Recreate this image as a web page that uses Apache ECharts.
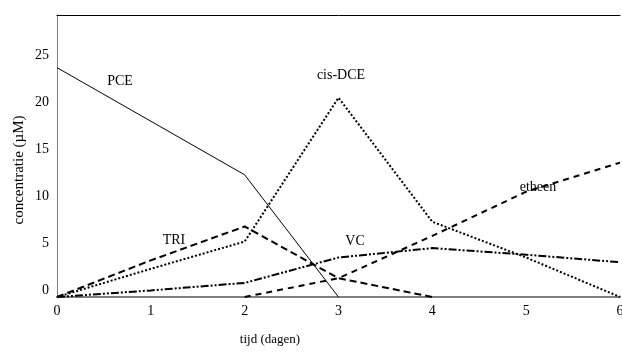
<!DOCTYPE html>
<html>
<head>
<meta charset="utf-8">
<script src="https://cdn.jsdelivr.net/npm/echarts@6/dist/echarts.min.js"></script>
<style>html,body{margin:0;padding:0;background:#fff;}#c{width:622px;height:352px;}</style>
</head>
<body>
<div id="c"></div>
<script>
// Data (days, concentration µM)
var days = [0, 1, 2, 3, 4, 5, 6];
var pceDays = [0, 2, 3];
var pce = [24.4, 13.0, 0];
var tri = [0, 3.9, 7.5, 2.0, 0];
var cisDce = [0, 3.0, 5.9, 21.2, 8.0, 4.2, 0];
var vc = [0, 0.7, 1.5, 4.2, 5.2, 4.5, 3.7];
var etheenDays = [2, 3, 4, 5, 6];
var etheen = [0, 2.0, 6.5, 11.2, 14.3];
var yTicks = [0, 5, 10, 15, 20, 25];
var xTicks = [0, 1, 2, 3, 4, 5, 6];

function pairs(xs, ys) { return ys.map(function (v, i) { return [xs[i], v]; }); }

var serif = 'Liberation Serif';
var chart = echarts.init(document.getElementById('c'));
chart.setOption({
  animation: false,
  grid: { left: 57, right: 2, top: 15, bottom: 55, containLabel: false, outerBoundsMode: 'none' },
  xAxis: [{
    type: 'value', min: 0, max: 6, interval: 1,
    axisLine: { lineStyle: { color: '#808080', width: 2 } },
    axisTick: { show: false },
    splitLine: { show: false },
    axisLabel: { color: '#000', fontFamily: serif, fontSize: 14, margin: 7,
      customValues: xTicks }
  }, {
    type: 'value', min: 0, max: 6, position: 'top',
    axisLine: { show: true, onZero: false, lineStyle: { color: '#000', width: 1 } },
    axisTick: { show: false }, axisLabel: { show: false }, splitLine: { show: false }
  }],
  yAxis: {
    type: 'value', min: 0, max: 30, interval: 5,
    axisLine: { show: true, lineStyle: { color: '#808080', width: 1 } },
    axisTick: { show: false },
    splitLine: { show: false },
    axisLabel: { color: '#000', fontFamily: serif, fontSize: 14, margin: 8,
      verticalAlign: 'bottom', lineHeight: 14, customValues: yTicks }
  },
  graphic: [
    { type: 'text', x: 270, y: 340, style: { text: 'tijd (dagen)', font: '13px "Liberation Serif"', fill: '#000', textAlign: 'center', textVerticalAlign: 'middle' } },
    { type: 'text', x: 19, y: 170, rotation: Math.PI / 2, style: { text: 'concentratie (µM)', font: '15px "Liberation Serif"', fill: '#000', textAlign: 'center', textVerticalAlign: 'middle' } },
    { type: 'text', x: 120, y: 81, style: { text: 'PCE', font: '14px "Liberation Serif"', fill: '#000', textAlign: 'center', textVerticalAlign: 'middle' } },
    { type: 'text', x: 341, y: 75, style: { text: 'cis-DCE', font: '14px "Liberation Serif"', fill: '#000', textAlign: 'center', textVerticalAlign: 'middle' } },
    { type: 'text', x: 174, y: 240, style: { text: 'TRI', font: '14px "Liberation Serif"', fill: '#000', textAlign: 'center', textVerticalAlign: 'middle' } },
    { type: 'text', x: 355, y: 241, style: { text: 'VC', font: '14px "Liberation Serif"', fill: '#000', textAlign: 'center', textVerticalAlign: 'middle' } },
    { type: 'text', x: 538, y: 187, style: { text: 'etheen', font: '14px "Liberation Serif"', fill: '#000', textAlign: 'center', textVerticalAlign: 'middle' } }
  ],
  series: [
    { name: 'PCE', type: 'line', data: pairs(pceDays, pce), showSymbol: false,
      lineStyle: { color: '#000', width: 1, type: 'solid' }, z: 5 },
    { name: 'TRI', type: 'line', data: pairs(days, tri), showSymbol: false,
      lineStyle: { color: '#000', width: 2, type: [7, 4] } },
    { name: 'cis-DCE', type: 'line', data: pairs(days, cisDce), showSymbol: false,
      lineStyle: { color: '#000', width: 2, type: [2, 2] } },
    { name: 'VC', type: 'line', data: pairs(days, vc), showSymbol: false,
      lineStyle: { color: '#000', width: 2, type: [8, 2, 2, 2, 2, 2] } },
    { name: 'etheen', type: 'line', data: pairs(etheenDays, etheen), showSymbol: false,
      lineStyle: { color: '#000', width: 2, type: [6, 5] } }
  ]
});
</script>
</body>
</html>
